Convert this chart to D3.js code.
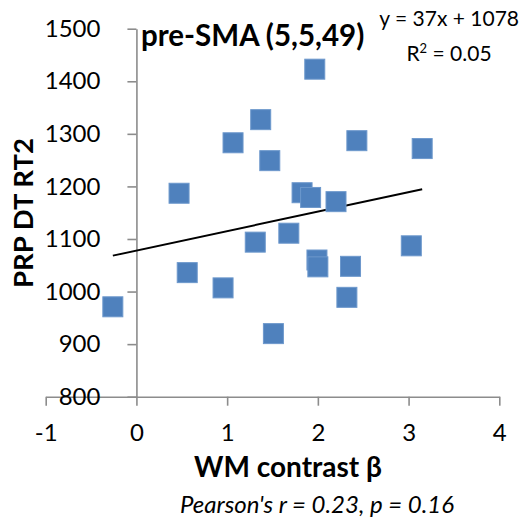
<!DOCTYPE html>
<html lang="en">
<head>
<meta charset="UTF-8">
<title>pre-SMA scatter</title>
<script src="https://d3js.org/d3.v7.min.js"></script>
<style>
html, body { margin: 0; padding: 0; background: white; }
body { font-family: 'Lato', 'Open Sans', sans-serif; }
.axis path, .axis line { stroke: #8c8c8c; stroke-width: 1.6px; fill: none; }
.axis text { font-family: 'Lato', sans-serif; font-size: 24px; fill: #000; }
.point { fill: #4f81bd; stroke: #6d98cc; stroke-width: 1px; }
.trend { stroke: #000; stroke-width: 2px; fill: none; }
</style>
</head>
<body>
<div id="chart"></div>
<script>

// --------------------------------------
// Data
// --------------------------------------

const wmContrast = [-0.26, 0.47, 0.56, 0.955, 1.065, 1.31, 1.37, 1.47, 1.51, 1.68,
                    1.826, 1.92, 1.966, 1.99, 2.0, 2.2, 2.32, 2.36, 2.43, 3.03, 3.15];
const rt2 = [971, 1187, 1036, 1007, 1283, 1094, 1327, 1249, 920, 1111,
             1188, 1179, 1423, 1060, 1047, 1171, 989, 1048, 1287, 1087, 1272];

const xTicks = [-1, 0, 1, 2, 3, 4];
const yTicks = [800, 900, 1000, 1100, 1200, 1300, 1400, 1500];

const slope = 37;
const intercept = 1078;

const titleText = "pre-SMA (5,5,49)";
const eqText = "y = 37x + 1078";
const statText = "Pearson's r = 0.23, p = 0.16";

const data = wmContrast.map((x, i) => ({x: x, y: rt2[i]}));

// --------------------------------------
// Size
// --------------------------------------

let totalWidth = 531;
let totalHeight = 521;

let svg = d3.select('#chart')
  .append("svg")
  .attr("width", totalWidth)
  .attr("height", totalHeight);

// --------------------------------------
// Scales
// --------------------------------------

let x = d3.scaleLinear()
  .domain([-1, 4])
  .range([45.7, 499.3]);

let y = d3.scaleLinear()
  .domain([800, 1500])
  .range([396.7, 28.7]);

// --------------------------------------
// Axes
// --------------------------------------

const xAxis = svg.append("g")
  .attr("class", "axis x-axis")
  .attr("transform", `translate(0,${y(800)})`)
  .call(d3.axisBottom(x)
    .tickValues(xTicks)
    .tickSize(9)
    .tickSizeOuter(0)
    .tickFormat(d => String(d)));

xAxis.selectAll("text").attr("dy", null).attr("y", 44);

const yAxis = svg.append("g")
  .attr("class", "axis y-axis")
  .attr("transform", `translate(${x(0)},0)`)
  .call(d3.axisLeft(y)
    .tickValues(yTicks)
    .tickSize(9)
    .tickSizeOuter(0)
    .tickPadding(27)
    .tickFormat(d => String(d)));

// --------------------------------------
// Trend line
// --------------------------------------

const xExt = d3.extent(wmContrast);
svg.append("line")
  .attr("class", "trend")
  .attr("x1", x(xExt[0]))
  .attr("y1", y(slope * xExt[0] + intercept))
  .attr("x2", x(xExt[1]))
  .attr("y2", y(slope * xExt[1] + intercept));

// --------------------------------------
// Points
// --------------------------------------

const size = 20;
svg.selectAll(".point")
  .data(data)
  .join("rect")
  .attr("class", "point")
  .attr("x", d => x(d.x) - size / 2)
  .attr("y", d => y(d.y) - size / 2)
  .attr("width", size)
  .attr("height", size);

// --------------------------------------
// Texts
// --------------------------------------

svg.append("text")
  .attr("x", 141)
  .attr("y", 46)
  .attr("font-size", "29.5px")
  .attr("font-weight", "bold")
  .text(titleText);

svg.append("text")
  .attr("x", 519)
  .attr("y", 26)
  .attr("text-anchor", "end")
  .attr("font-size", "21px")
  .text(eqText);

const r2 = svg.append("text")
  .attr("x", 449)
  .attr("y", 61)
  .attr("text-anchor", "middle")
  .attr("font-size", "21px");
r2.append("tspan").text("R");
r2.append("tspan").attr("font-size", "13px").attr("dy", "-8").text("2");
r2.append("tspan").attr("dy", "8").text(" = 0.05");

svg.append("text")
  .attr("transform", "translate(33,213) rotate(-90)")
  .attr("text-anchor", "middle")
  .attr("font-size", "27.5px")
  .attr("font-weight", "bold")
  .text("PRP DT RT2");

svg.append("text")
  .attr("x", 288)
  .attr("y", 477)
  .attr("text-anchor", "middle")
  .attr("font-size", "28px")
  .attr("font-weight", "bold")
  .text("WM contrast β");

svg.append("text")
  .attr("x", 317)
  .attr("y", 513)
  .attr("text-anchor", "middle")
  .attr("font-size", "24px")
  .attr("font-style", "italic")
  .text(statText);

</script>
</body>
</html>
